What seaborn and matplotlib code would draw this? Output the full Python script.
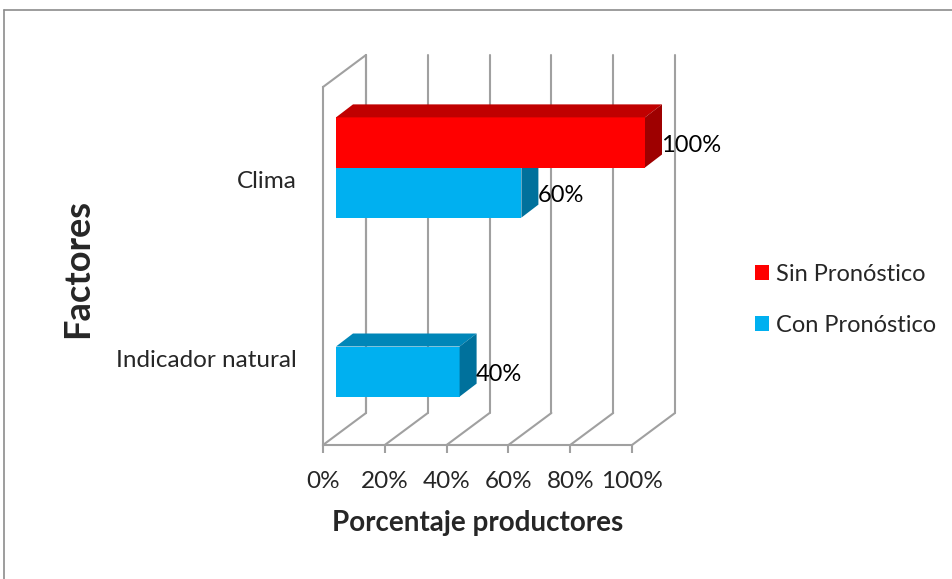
import numpy as np
import pandas as pd
import matplotlib
matplotlib.use("Agg")
import matplotlib.pyplot as plt
from matplotlib.patches import Polygon, Patch
from matplotlib.lines import Line2D
from matplotlib.transforms import ScaledTranslation
import seaborn as sns

# Data
categories = ["Clima", "Indicador natural"]
series = ["Sin Pronóstico", "Con Pronóstico"]
sin_pronostico = [100, np.nan]
con_pronostico = [60, 40]
x_ticks = [0, 20, 40, 60, 80, 100]
x_tick_labels = ["0%", "20%", "40%", "60%", "80%", "100%"]

df = pd.DataFrame({
    "Factor": categories * 2,
    "Serie": [series[0]] * 2 + [series[1]] * 2,
    "Porcentaje": sin_pronostico + con_pronostico,
})

front_colors = {"Sin Pronóstico": "#FF0000", "Con Pronóstico": "#00B0F0"}
top_colors = {"Sin Pronóstico": "#C00000", "Con Pronóstico": "#0086B8"}
side_colors = {"Sin Pronóstico": "#9E0000", "Con Pronóstico": "#00719C"}
grid_color = "#A0A0A0"

sns.set_style("white")
plt.rcParams["font.family"] = ["Lato", "DejaVu Sans"]

W, H, DPI = 953, 579, 100
fig = plt.figure(figsize=(W / DPI, H / DPI), dpi=DPI)

# front plane of the 3D box, in pixels
left_px, right_px, top_px, bottom_px = 323, 632, 87, 445
ax = fig.add_axes([left_px / W, (H - bottom_px) / H,
                   (right_px - left_px) / W, (bottom_px - top_px) / H])

sns.barplot(data=df, y="Factor", x="Porcentaje", hue="Serie", hue_order=series,
            order=categories, palette=front_colors, orient="h", width=0.56,
            errorbar=None, ax=ax, legend=False, saturation=1, linewidth=0)

ax.set_xlim(0, 100)
ax.set_ylim(1.5, -0.5)

# pixel -> data conversion
sx = (right_px - left_px) / 100.0
sy = (bottom_px - top_px) / 2.0

def off(dx_px, dy_px_up):
    return dx_px / sx, -dy_px_up / sy

wall_dx, wall_dy = off(43, 32)
front_dx, front_dy = off(13, 9)
depth_dx, depth_dy = off(17, 13)

y_top, y_bot = -0.5, 1.5
# back wall gridlines and floor diagonals
for t in x_ticks:
    ax.add_line(Line2D([t + wall_dx, t + wall_dx], [y_top + wall_dy, y_bot + wall_dy],
                       color=grid_color, lw=1.5, clip_on=False, zorder=1))
    ax.add_line(Line2D([t, t + wall_dx], [y_bot, y_bot + wall_dy],
                       color=grid_color, lw=1.5, clip_on=False, zorder=1))
# left wall edges
ax.add_line(Line2D([0, wall_dx], [y_top, y_top + wall_dy],
                   color=grid_color, lw=1.5, clip_on=False, zorder=1))
ax.add_line(Line2D([wall_dx, wall_dx], [y_top + wall_dy, y_bot + wall_dy],
                   color=grid_color, lw=1.5, clip_on=False, zorder=1))

# 3D bars
for container, name in zip(ax.containers, series):
    for bar in container:
        w = bar.get_width()
        if not np.isfinite(w) or w == 0:
            continue
        x0 = bar.get_x() + front_dx
        y0 = bar.get_y() + front_dy
        h = bar.get_height()
        x1 = x0 + w
        y1 = y0 + h
        z = 10 - (y0 + h / 2)
        bar.set_x(x0)
        bar.set_y(y0)
        bar.set_zorder(z)
        bar.set_clip_on(False)
        top = Polygon([(x0, y0), (x1, y0), (x1 + depth_dx, y0 + depth_dy),
                       (x0 + depth_dx, y0 + depth_dy)], closed=True,
                      facecolor=top_colors[name], edgecolor="none", zorder=z, clip_on=False)
        side = Polygon([(x1, y0), (x1 + depth_dx, y0 + depth_dy),
                        (x1 + depth_dx, y1 + depth_dy), (x1, y1)], closed=True,
                       facecolor=side_colors[name], edgecolor="none", zorder=z, clip_on=False)
        ax.add_patch(top)
        ax.add_patch(side)
        ax.annotate(f"{w:.0f}%", xy=(x1, y0 + h / 2), xytext=(16, -3),
                    textcoords="offset pixels", ha="left", va="center",
                    fontsize=17, color="black", zorder=20, annotation_clip=False)

# axes styling
for s in ["top", "right"]:
    ax.spines[s].set_visible(False)
for s in ["left", "bottom"]:
    ax.spines[s].set_color(grid_color)
    ax.spines[s].set_linewidth(1.5)
    ax.spines[s].set_zorder(1)
ax.set_xticks(x_ticks)
ax.set_xticklabels(x_tick_labels)
ax.tick_params(axis="x", length=6, width=1.5, color=grid_color, pad=13,
               labelsize=17.5, direction="out")
ax.tick_params(axis="y", length=0, pad=19, labelsize=17.5)
ax.xaxis.set_ticks_position("bottom")
for lab in ax.get_yticklabels():
    lab.set_transform(lab.get_transform() + ScaledTranslation(0, -3 / DPI, fig.dpi_scale_trans))

ax.set_xlabel("Porcentaje productores", fontsize=20, fontweight="bold", va="center")
ax.xaxis.set_label_coords(0.502, (bottom_px - 523) / (bottom_px - top_px))
ax.set_ylabel("Factores", fontsize=26, fontweight="bold", va="center")
ax.yaxis.set_label_coords((78 - left_px) / (right_px - left_px),
                          (bottom_px - 268) / (bottom_px - top_px))

handles = [Patch(facecolor=front_colors[s], edgecolor="none") for s in series]
fig.legend(handles, series, loc="upper left",
           bbox_to_anchor=(755 / W, 1 - 264 / H), frameon=False, fontsize=17,
           handlelength=0.6, handleheight=0.6, handletextpad=0.3,
           labelspacing=1.25, borderpad=0, borderaxespad=0)

# chart area border
fig.add_artist(Line2D([4 / W, 4 / W], [0, 1 - 10 / H], transform=fig.transFigure,
                      color="#8C8C8C", lw=1.2))
fig.add_artist(Line2D([4 / W, 1], [1 - 10 / H, 1 - 10 / H], transform=fig.transFigure,
                      color="#8C8C8C", lw=1.2))

fig.savefig("out.png", dpi=DPI)
